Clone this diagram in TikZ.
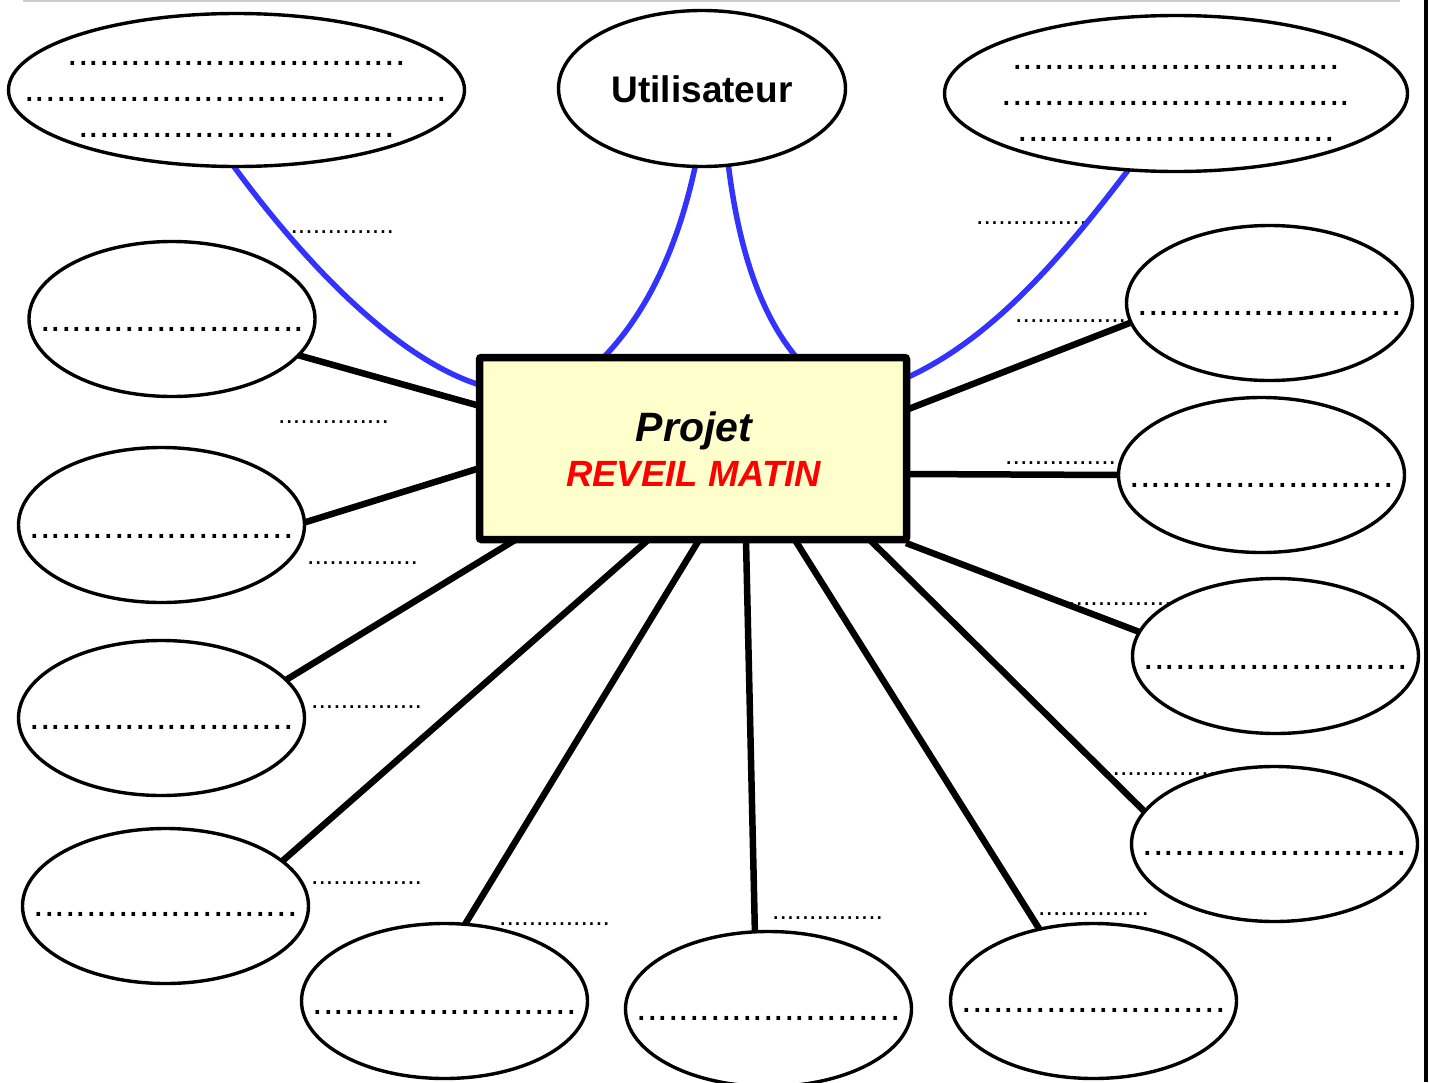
\documentclass[tikz,border=0pt]{standalone}
\usepackage{fontspec}
\setmainfont{Liberation Sans}
\usetikzlibrary{shapes.geometric,backgrounds}
\definecolor{bluel}{HTML}{3333FF}
\definecolor{boxfill}{HTML}{FFFFCC}
\definecolor{redt}{HTML}{FF0000}
\tikzset{
  ell/.style={ellipse, draw, line width=3.4pt, fill=white, inner sep=0pt, outer sep=0pt},
  smallell/.style={ell, minimum width=286pt, minimum height=155pt},
  con/.style={line width=6.5pt},
  blueline/.style={draw=bluel, line width=5.5pt},
  dots/.style={font=\fontsize{38}{40}\selectfont, anchor=base, inner sep=0pt},
  lbl/.style={font=\fontsize{26.6}{28}\selectfont, anchor=base west, inner sep=0pt},
}
\newcommand{\dotsN}[1]{\foreach \i in {1,...,#1}{.}}
\begin{document}
\begin{tikzpicture}[x=1pt,y=-1pt]
\useasboundingbox (0,0) rectangle (1430,1082);
% frame lines
\draw[black!20, line width=2pt] (23,1) -- (1400,1);
\draw[line width=4pt] (1426,0) -- (1426,1082);

% central box
\node[draw, line width=7.5pt, fill=boxfill, minimum width=427pt, minimum height=182pt, rounded corners=2pt, inner sep=0pt] (box) at (693,448.5) {};
\node[anchor=base, inner sep=0pt, font=\fontsize{41}{44}\selectfont\bfseries\itshape] (p1) at (694,441) {Projet};
\node[anchor=base, inner sep=0pt, font=\fontsize{36.5}{40}\selectfont\bfseries\itshape, text=redt] (p2) at (693.5,486) {REVEIL MATIN};

% ellipses
\node[ell, minimum width=456pt, minimum height=153pt] (e1) at (236.5,90) {};
\node[ell, minimum width=287pt, minimum height=156pt] (e2) at (702,88.5) {};
\node[ell, minimum width=463pt, minimum height=156pt] (e3) at (1176,93.5) {};
\node[smallell] (e4) at (172,319) {};
\node[smallell] (e5) at (161.5,525) {};
\node[smallell] (e6) at (161.5,718) {};
\node[smallell] (e7) at (165.5,906) {};
\node[smallell] (e8) at (444.5,1001) {};
\node[smallell] (e9) at (768.5,1009) {};
\node[smallell] (e10) at (1093.5,1001) {};
\node[smallell] (e11) at (1269.5,303) {};
\node[smallell] (e12) at (1261.5,475) {};
\node[smallell] (e13) at (1275.5,656) {};
\node[smallell] (e14) at (1274.5,844) {};

% ellipse texts
\node[anchor=base, inner sep=0pt, font=\fontsize{37}{40}\selectfont\bfseries] (u) at (702,102) {Utilisateur};
\node[dots] (t1a) at (236.5,65) {\dotsN{32}};
\node[dots] (t1b) at (235.5,101) {\dotsN{40}};
\node[dots] (t1c) at (236.5,137) {\dotsN{30}};
\node[dots] (t3a) at (1176,69) {\dotsN{31}};
\node[dots] (t3b) at (1176,105) {\dotsN{33}};
\node[dots] (t3c) at (1176,141) {\dotsN{30}};
\node[dots] (t4) at (172,331) {\dotsN{25}};
\node[dots] (t5) at (161.5,538) {\dotsN{25}};
\node[dots] (t6) at (161.5,729) {\dotsN{25}};
\node[dots] (t7) at (165.5,916) {\dotsN{25}};
\node[dots] (t8) at (444.5,1014) {\dotsN{25}};
\node[dots] (t9) at (768.5,1020) {\dotsN{25}};
\node[dots] (t10) at (1093.5,1012) {\dotsN{25}};
\node[dots] (t11) at (1269.5,315) {\dotsN{25}};
\node[dots] (t12) at (1261.5,487) {\dotsN{25}};
\node[dots] (t13) at (1275.5,669) {\dotsN{25}};
\node[dots] (t14) at (1274.5,855) {\dotsN{25}};

% connection end points on the box
\coordinate (b4) at (480,406);
\coordinate (b5) at (480,468);
\coordinate (b6) at (515,540);
\coordinate (b7) at (648,540);
\coordinate (b8) at (699,540);
\coordinate (b9) at (746,540);
\coordinate (b10) at (795,540);
\coordinate (b14) at (870,540);
\coordinate (b13) at (906,543);
\coordinate (b12) at (906,474);
\coordinate (b11) at (906,410);
\coordinate (c1) at (480,385);
\coordinate (c2) at (603,358);
\coordinate (c3) at (797,358);
\coordinate (c4) at (906,378);

\begin{scope}[on background layer]
  % labels
  \node[lbl] (l1) at (283,233) {\dotsN{15}};
  \node[lbl] (l2) at (976,224) {\dotsN{15}};
  \node[lbl] (l3) at (1015,322) {\dotsN{15}};
  \node[lbl] (l4) at (278,423) {\dotsN{15}};
  \node[lbl] (l5) at (1005,464) {\dotsN{15}};
  \node[lbl] (l6) at (307,564) {\dotsN{15}};
  \node[lbl] (l7) at (1068,605) {\dotsN{15}};
  \node[lbl] (l8) at (311,708) {\dotsN{15}};
  \node[lbl] (l9) at (1105,775) {\dotsN{15}};
  \node[lbl] (l10) at (311,884) {\dotsN{15}};
  \node[lbl] (l11) at (499,925) {\dotsN{15}};
  \node[lbl] (l12) at (772,919) {\dotsN{15}};
  \node[lbl] (l13) at (1038,915) {\dotsN{15}};
  % blue curves
  \draw[blueline] (e1.-92) .. controls (310,270) and (400,360) .. (c1);
  \draw[blueline] (e2.-95.7) .. controls (675,260) and (640,320) .. (c2);
  \draw[blueline] (e2.-71.9) .. controls (740,260) and (765,320) .. (c3);
  \draw[blueline] (e3.-122) .. controls (1060,260) and (990,340) .. (c4);
  % black connectors
  \draw[con] (b4) -- (e4.-16.1);
  \draw[con] (b5) -- (e5.1.6);
  \draw[con] (b6) -- (e6.17.5);
  \draw[con] (b7) -- (e7.21.9);
  \draw[con] (b8) -- (e8.75.5);
  \draw[con] (b9) -- (e9.100.4);
  \draw[con] (b10) -- (e10.127.5);
  \draw[con] (b14) -- (e14.166.7);
  \draw[con] (b13) -- (e13.170.3);
  \draw[con] (b12) -- (e12.180.8);
  \draw[con] (b11) -- (e11.188);
\end{scope}
\end{tikzpicture}
\end{document}
